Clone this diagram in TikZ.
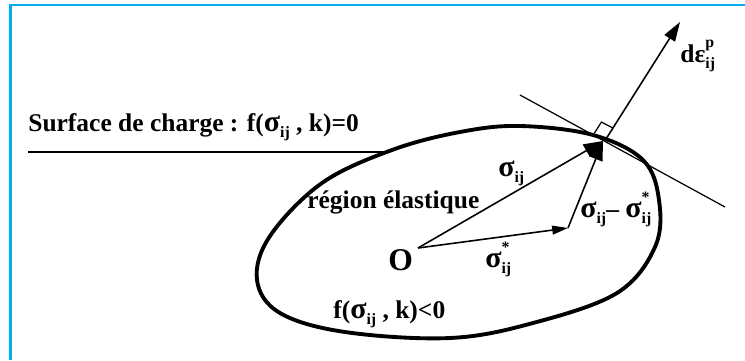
\documentclass[tikz,border=0pt]{standalone}
\usepackage{fontspec}
\setmainfont{Liberation Serif}
\usetikzlibrary{arrows.meta}
\newcommand\gs{{\fontsize{17}{17}\selectfont σ}}
\newcommand\lsub[1]{\raisebox{-0.55ex}{\fontsize{9}{9}\selectfont #1}}
\newcommand\lsup[1]{\raisebox{1.25ex}{\fontsize{9}{9}\selectfont #1}}
\newcommand\supsub[2]{\rlap{\lsup{#1}}\lsub{#2}}
\begin{document}
\begin{tikzpicture}[x=0.02cm,y=-0.02cm,
  lbl/.style={anchor=base west,inner sep=0pt,font=\fontsize{14.5}{17}\bfseries},
  vec/.style={line width=0.9pt,-{Triangle[length=11pt,width=8pt]}},
  smallvec/.style={line width=0.9pt,-{Triangle[length=9pt,width=5pt]}},
  thin/.style={line width=0.7pt},
  curve/.style={line width=2.2pt,line join=round}]
\useasboundingbox (0,0) rectangle (745,360);
% frame
\draw[cyan,line width=1.2pt] (10.5,360) -- (10.5,5) -- (745,5);
% coordinates
\coordinate (O0) at (418,248);
\coordinate (S) at (603,141);
\coordinate (Ss) at (568,228);
\coordinate (P) at (606,139);
\coordinate (N) at (680,22);
\coordinate (T1) at (520,95);
\coordinate (T2) at (725,207);
\coordinate (H1) at (28,152);
\coordinate (H2) at (385,152);
\coordinate (QA) at (613,128);
\coordinate (QB) at (601.4,122.1);
\coordinate (QC) at (594.4,133.1);
% yield surface
\draw[curve] plot[smooth cycle,tension=0.6] coordinates {(257,280) (270,236) (322,183) (392,150) (460,132) (520,126) (593,135) (643,160) (659,200) (655,247) (617,293) (533,323) (450,338) (345,332) (280,313)};
\draw[line width=1.1pt] (H1) -- (H2);
% tangent and normal
\draw[thin] (T1) -- (T2);
\draw[line width=0.9pt,-{Triangle[length=11pt,width=7pt]}] (P) -- (N);
\draw[thin] (QC) -- (QB) -- (QA);
% vectors
\draw[vec] (O0) -- (S);
\draw[smallvec] (O0) -- (Ss);
\draw[vec] (Ss) -- (S);
% labels
\node[lbl] (title) at (28,131) {Surface de charge : f(\gs\lsub{ij} , k)=0};
\node[lbl] (reg) at (307,208) {région élastique};
\node[lbl,font=\fontsize{18}{18}\bfseries] (Olab) at (388,270) {O};
\node[lbl] (sig) at (498,176) {\gs\lsub{ij}};
\node[lbl] (sigs) at (485,267) {\gs\supsub{*}{ij}};
\node[lbl] (diff) at (580,217) {\gs\lsub{ij}– \gs\supsub{*}{ij}};
\node[lbl] (fneg) at (333,318) {f(\gs\lsub{ij} , k)<0};
\node[lbl] (deps) at (680,62) {dε\supsub{p}{ij}};
\end{tikzpicture}
\end{document}
